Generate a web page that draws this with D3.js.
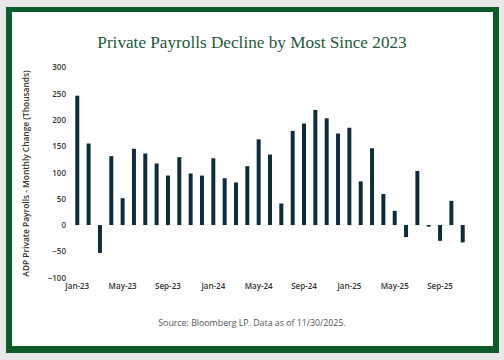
<!DOCTYPE html>
<html><head><meta charset="utf-8">
<script src="https://cdn.jsdelivr.net/npm/d3@7"></script>
<style>
html,body{margin:0;padding:0;background:#e7e7e7;}
svg{display:block;}
</style></head>
<body>
<script>
const months = ["Jan-23","Feb-23","Mar-23","Apr-23","May-23","Jun-23","Jul-23","Aug-23","Sep-23","Oct-23","Nov-23","Dec-23",
"Jan-24","Feb-24","Mar-24","Apr-24","May-24","Jun-24","Jul-24","Aug-24","Sep-24","Oct-24","Nov-24","Dec-24",
"Jan-25","Feb-25","Mar-25","Apr-25","May-25","Jun-25","Jul-25","Aug-25","Sep-25","Oct-25","Nov-25"];
const values = [246,155,-53,131,51,145,136,117,94,129,98,94,
127,89,81,112,163,134,41,179,193,219,203,174,
185,83,146,59,27,-23,103,-3,-30,46,-33];
const xTickLabels = ["Jan-23","May-23","Sep-23","Jan-24","May-24","Sep-24","Jan-25","May-25","Sep-25"];
const yTicks = [-100,-50,0,50,100,150,200,250,300];
const title = "Private Payrolls Decline by Most Since 2023";
const yLabel = "ADP Private Payrolls - Monthly Change (Thousands)";
const source = "Source: Bloomberg LP. Data as of 11/30/2025.";

const W=504,H=360;
const svg=d3.select("body").append("svg").attr("width",W).attr("height",H);
svg.append("rect").attr("width",W).attr("height",H).attr("fill","#e7e7e7");
svg.append("rect").attr("x",6).attr("y",7).attr("width",493).attr("height",346).attr("fill","#0f5a2a");
svg.append("rect").attr("x",12).attr("y",12).attr("width",481).attr("height",334).attr("fill","#ffffff");

svg.append("text").attr("x",252).attr("y",48).attr("text-anchor","middle")
  .attr("font-family","'Liberation Serif','DejaVu Serif',serif").attr("font-size",17.2)
  .attr("fill","#23593a").text(title);

const x=d3.scaleBand().domain(months).range([71.6,468.4]).paddingInner(0.65).paddingOuter(0.325);
const y=d3.scaleLinear().domain([-100,300]).range([277.6,67.3]);

// zero line
svg.append("line").attr("x1",71).attr("x2",469).attr("y1",y(0)).attr("y2",y(0))
  .attr("stroke","#dddddd").attr("stroke-width",0.8).attr("stroke-dasharray","1,1");

svg.append("g").selectAll("rect").data(values).join("rect")
  .attr("x",(d,i)=>x(months[i]))
  .attr("width",x.bandwidth())
  .attr("y",d=>y(Math.max(0,d)))
  .attr("height",d=>Math.abs(y(d)-y(0)))
  .attr("fill","#0e2b3a");

const yAxis=svg.append("g").attr("transform","translate(66,0)")
  .call(d3.axisLeft(y).tickValues(yTicks).tickSize(0).tickPadding(0));
yAxis.select(".domain").remove();
yAxis.selectAll("text").attr("font-family","'Open Sans',sans-serif").attr("font-size",8).attr("font-weight",600).attr("fill","#333");

const xAxis=svg.append("g").attr("transform","translate(0,283.5)")
  .call(d3.axisBottom(x).tickValues(xTickLabels).tickSize(0).tickPadding(0));
xAxis.select(".domain").remove();
xAxis.selectAll("text").attr("font-family","'Open Sans',sans-serif").attr("font-size",8).attr("font-weight",600).attr("fill","#333").attr("dy","0.71em");

svg.append("text").attr("transform","translate(29,173.5) rotate(-90)").attr("text-anchor","middle")
  .attr("font-family","'Open Sans',sans-serif").attr("font-size",8.4).attr("font-weight",600).attr("fill","#333").text(yLabel);

svg.append("text").attr("x",252).attr("y",326).attr("text-anchor","middle")
  .attr("font-family","'Open Sans',sans-serif").attr("font-size",8.8).attr("fill","#555").text(source);
</script>
</body></html>
